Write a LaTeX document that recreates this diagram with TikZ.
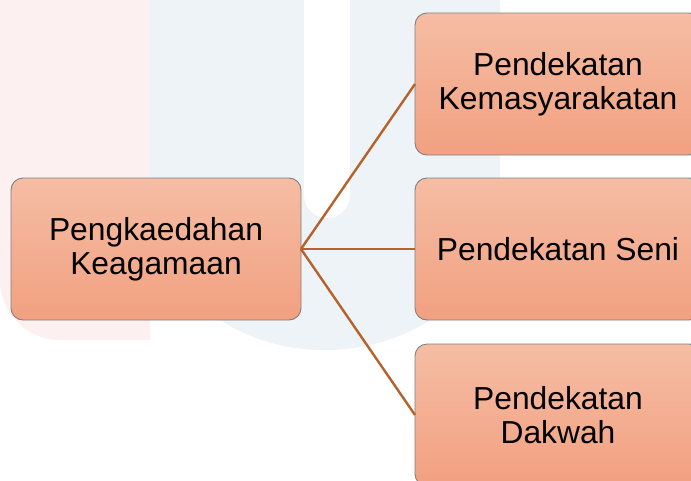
\documentclass[tikz,border=0pt]{standalone}
\usepackage{fontspec}
\setmainfont{Liberation Sans}
\definecolor{boxtop}{HTML}{F5BDA4}
\definecolor{boxbot}{HTML}{F2A080}
\definecolor{boxline}{HTML}{808080}
\definecolor{link}{HTML}{B5632B}
\definecolor{wmblue}{HTML}{EEF3F8}
\definecolor{wmpink}{HTML}{FDF0F0}
\tikzset{
  catbox/.style={draw=boxline, line width=0.9pt, rounded corners=12pt,
    top color=boxtop, bottom color=boxbot, shading angle=0,
    minimum width=#1, minimum height=142pt, inner sep=0pt, outer sep=0pt,
    align=center, font=\fontsize{31.8}{34}\selectfont},
  catbox/.default=286pt,
  linkline/.style={draw=link, line width=2.4pt}
}
\begin{document}
\begin{tikzpicture}[x=1pt,y=-1pt]
\useasboundingbox (0,0) rectangle (691,480);
\clip (0,0) rectangle (691,480);
\fill[white] (0,0) rectangle (691,480);
% faint watermark
\fill[wmpink] (0,0) -- (0,280) arc[start angle=180,end angle=90,radius=60] -- (150,340) -- (150,0) -- cycle;
\fill[wmblue] (150,0) -- (150,200) arc[start angle=180,end angle=0,x radius=175,y radius=150] -- (500,0) -- cycle;
\fill[white] (304,0) -- (304,195) arc[start angle=180,end angle=0,radius=23] -- (350,0) -- cycle;
% nodes
\node[catbox=290pt] (root) at (156,249) {Pengkaedahan\\Keagamaan};
\node[catbox] (a) at (558,84) {Pendekatan\\Kemasyarakatan};
\node[catbox] (b) at (558,249) {Pendekatan Seni};
\node[catbox] (c) at (558,415) {Pendekatan\\Dakwah};
% connectors
\draw[linkline] (root.east) -- (a.west);
\draw[linkline] (root.east) -- (b.west);
\draw[linkline] (root.east) -- (c.west);
\end{tikzpicture}
\end{document}
